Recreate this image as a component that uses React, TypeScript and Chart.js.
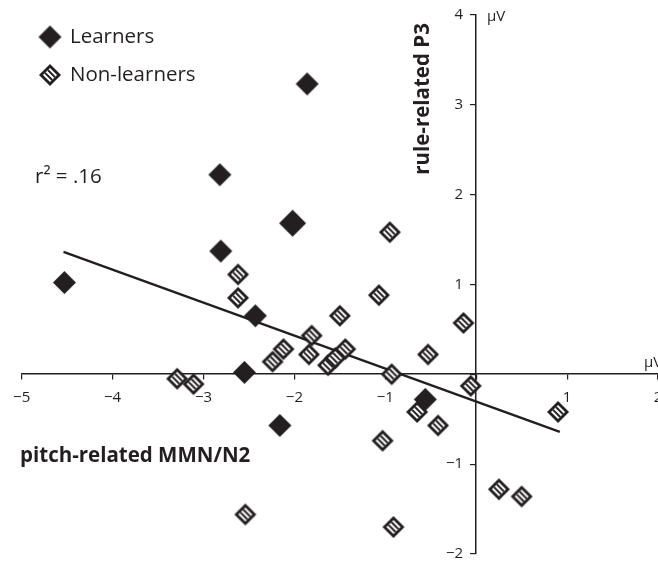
import React, { useEffect, useRef } from "react";
import { Chart, registerables } from "chart.js";

Chart.register(...registerables);

// ---- data ----
const learnersX = [-4.53, -1.86, -2.82, -2.02, -2.81, -2.43, -2.55, -2.16, -0.56];
const learnersY = [1.02, 3.23, 2.22, 1.68, 1.37, 0.65, 0.02, -0.57, -0.28];

const nonLearnersX = [
  -2.62, -2.62, -1.5, -1.81, -2.12, -2.24, -1.84, -1.63, -1.55, -1.44, -3.29, -3.11, -0.95,
  -1.07, -0.14, -0.53, -0.93, -0.06, -0.65, -0.42, -1.03, 0.9, -2.54, -0.91, 0.25, 0.5,
];
const nonLearnersY = [
  1.11, 0.85, 0.65, 0.43, 0.28, 0.14, 0.22, 0.1, 0.18, 0.28, -0.05, -0.11, 1.58, 0.88, 0.57,
  0.22, 0.0, -0.13, -0.42, -0.57, -0.74, -0.42, -1.56, -1.7, -1.28, -1.36,
];

const fitX = [-4.54, 0.92];
const fitY = [1.36, -0.64];

const xMin = -5;
const xMax = 2;
const yMin = -2;
const yMax = 4;

const seriesNames = ["Learners", "Non-learners"];
const xTitle = "pitch-related MMN/N2";
const yTitle = "rule-related P3";
const unit = "\u00b5V";
const rSquared = "r\u00b2 = .16";

const FONT = "'Open Sans', 'Noto Sans', sans-serif";
const INK = "#231f20";

function makeSolid(d: number): HTMLCanvasElement {
  const s = Math.ceil(d) + 2;
  const c = document.createElement("canvas");
  c.width = s;
  c.height = s;
  const g = c.getContext("2d")!;
  const m = s / 2;
  g.fillStyle = INK;
  g.beginPath();
  g.moveTo(m, m - d / 2);
  g.lineTo(m + d / 2, m);
  g.lineTo(m, m + d / 2);
  g.lineTo(m - d / 2, m);
  g.closePath();
  g.fill();
  return c;
}

function makeHatched(d: number): HTMLCanvasElement {
  const s = Math.ceil(d) + 2;
  const c = document.createElement("canvas");
  c.width = s;
  c.height = s;
  const g = c.getContext("2d")!;
  g.translate(s / 2, s / 2);
  g.rotate(Math.PI / 4);
  const side = d / Math.SQRT2;
  g.fillStyle = INK;
  g.fillRect(-side / 2, -side / 2, side, side);
  const b = 2.8;
  const inner = side - 2 * b;
  g.fillStyle = "#fff";
  g.fillRect(-inner / 2, -inner / 2, inner, inner);
  const band = inner / 5;
  g.fillStyle = INK;
  g.fillRect(-inner / 2, -inner / 2 + band, inner, band);
  g.fillRect(-inner / 2, -inner / 2 + 3 * band, inner, band);
  return c;
}

const fmt = (v: number) => (v === 0 ? "" : v < 0 ? "\u2212" + Math.abs(v) : String(v));

export default function App() {
  const ref = useRef<HTMLCanvasElement | null>(null);

  useEffect(() => {
    if (!ref.current) return;
    const solid = makeSolid(23);
    const solidBig = makeSolid(27);
    const hatched = makeHatched(22);

    const annot = {
      id: "annot",
      afterDraw(chart: any) {
        const ctx = chart.ctx as CanvasRenderingContext2D;
        ctx.save();
        ctx.fillStyle = INK;
        // y tick labels (left of the crossing axis)
        const ys = chart.scales.y;
        const xs = chart.scales.x;
        const axisX = xs.getPixelForValue(0);
        ctx.font = `15px ${FONT}`;
        ctx.textAlign = "right";
        ctx.textBaseline = "middle";
        ys.ticks.forEach((t: any) => {
          const lbl = fmt(t.value);
          if (lbl) ctx.fillText(lbl, axisX - 13, ys.getPixelForValue(t.value));
        });
        // legend
        ctx.drawImage(solid, 50 - solid.width / 2, 37 - solid.height / 2);
        ctx.drawImage(hatched, 50 - hatched.width / 2, 75 - hatched.height / 2);
        ctx.font = `20.5px ${FONT}`;
        ctx.textBaseline = "middle";
        ctx.textAlign = "left";
        ctx.fillText(seriesNames[0], 70, 37);
        ctx.fillText(seriesNames[1], 70, 75);
        // r squared
        ctx.fillText(rSquared, 35, 177);
        // units
        ctx.font = `15px ${FONT}`;
        ctx.fillText(unit, 487, 17);
        ctx.fillText(unit, 644, 363);
        // axis titles
        ctx.font = `bold 20.5px ${FONT}`;
        ctx.fillText(xTitle, 20, 456);
        ctx.save();
        ctx.translate(423, 99);
        ctx.rotate(-Math.PI / 2);
        ctx.textAlign = "center";
        ctx.fillText(yTitle, 0, 0);
        ctx.restore();
        ctx.restore();
      },
    };

    const chart = new Chart(ref.current, {
      type: "scatter",
      data: {
        datasets: [
          {
            label: seriesNames[0],
            data: learnersX.map((x, i) => ({ x, y: learnersY[i] })),
            pointStyle: learnersX.map((_, i) => (i === 3 ? solidBig : solid)) as any,
            pointRadius: 10,
            order: 1,
          },
          {
            label: seriesNames[1],
            data: nonLearnersX.map((x, i) => ({ x, y: nonLearnersY[i] })),
            pointStyle: hatched as any,
            pointRadius: 10,
            order: 2,
          },
          {
            type: "line",
            label: "fit",
            data: fitX.map((x, i) => ({ x, y: fitY[i] })),
            borderColor: INK,
            borderWidth: 2.4,
            pointRadius: 0,
            showLine: true,
            fill: false,
            order: 10,
          } as any,
        ],
      },
      options: {
        animation: false,
        responsive: false,
        events: [],
        layout: { padding: { left: 21.7, right: 42, top: 14.7, bottom: 9.3 } },
        plugins: { legend: { display: false }, tooltip: { enabled: false } },
        scales: {
          x: {
            type: "linear",
            min: xMin,
            max: xMax,
            position: { y: 0 } as any,
            ticks: {
              stepSize: 1,
              callback: (v: any) => fmt(Number(v)),
              font: { family: FONT, size: 15 },
              color: INK,
              padding: 10,
              maxRotation: 0,
            },
            grid: { drawOnChartArea: false, drawTicks: true, tickLength: 5, color: INK, lineWidth: 1.2 },
            border: { display: true, color: INK, width: 1.5 },
          },
          y: {
            type: "linear",
            min: yMin,
            max: yMax,
            position: { x: 0 } as any,
            ticks: {
              stepSize: 1,
              display: false,
            },
            grid: { drawOnChartArea: false, drawTicks: true, tickLength: 5, color: INK, lineWidth: 1.2 },
            border: { display: true, color: INK, width: 1.5 },
          },
        },
      },
      plugins: [annot],
    });
    return () => chart.destroy();
  }, []);

  return (
    <div
      style={{
        position: "fixed",
        left: 0,
        top: 0,
        width: 658,
        height: 565,
        overflow: "hidden",
        background: "#fff",
      }}
    >
      <canvas ref={ref} width={700} height={565} style={{ width: 700, height: 565, display: "block" }} />
    </div>
  );
}
